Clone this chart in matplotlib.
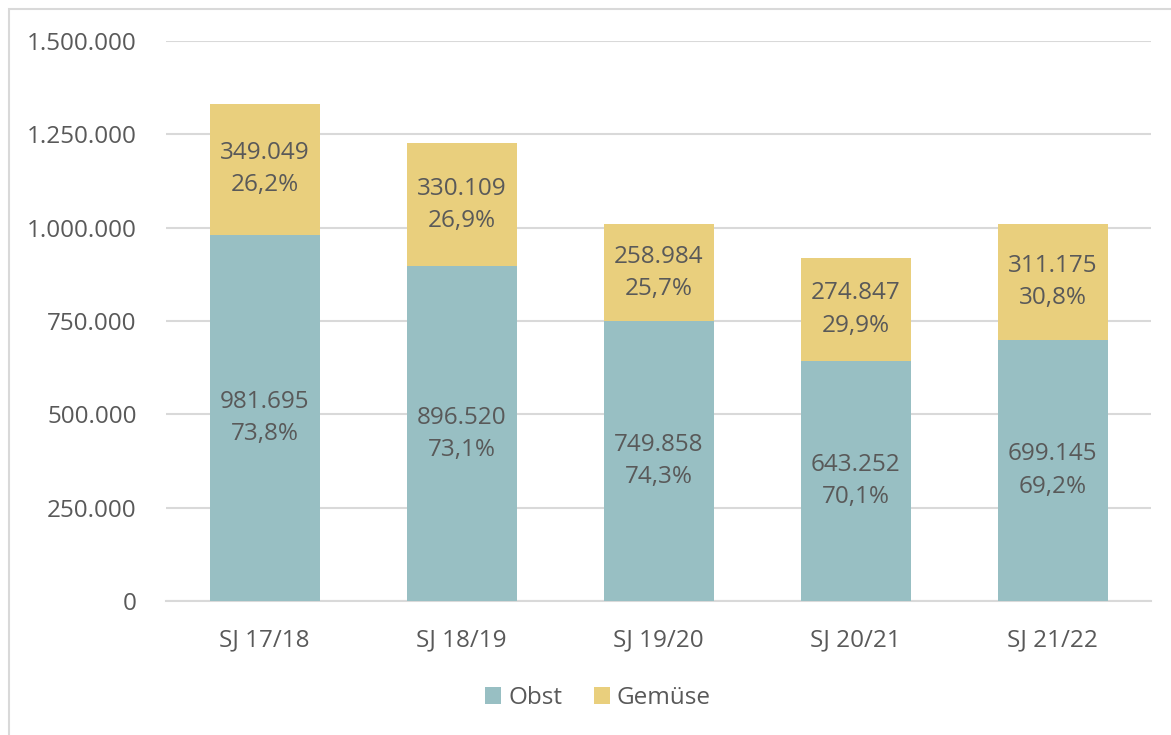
import matplotlib
matplotlib.use("Agg")
import matplotlib.pyplot as plt
from matplotlib.patches import Rectangle

categories = ["SJ 17/18", "SJ 18/19", "SJ 19/20", "SJ 20/21", "SJ 21/22"]
obst = [981695, 896520, 749858, 643252, 699145]
gemuese = [349049, 330109, 258984, 274847, 311175]
obst_pct = ["73,8%", "73,1%", "74,3%", "70,1%", "69,2%"]
gemuese_pct = ["26,2%", "26,9%", "25,7%", "29,9%", "30,8%"]
yticks = [0, 250000, 500000, 750000, 1000000, 1250000, 1500000]

plt.rcParams['font.family'] = ['Open Sans', 'DejaVu Sans']
TXT = '#595959'
C_OBST = '#98BFC3'
C_GEM = '#E9CF7D'
FS = 17.5

def fmt(v):
    return f"{v:,}".replace(",", ".")

W, H = 1171, 735
fig = plt.figure(figsize=(W/100, H/100), dpi=100)
fig.patches.append(Rectangle((9/W, -0.1), 1.2, (H-9)/H + 0.1, transform=fig.transFigure,
                             fill=False, edgecolor='#D9D9D9', linewidth=1.5))
ax = fig.add_axes([166/W, 1-601/H, (1151-166)/W, (601-41)/H])

x = list(range(len(categories)))
bw = 110/197
ax.bar(x, obst, width=bw, color=C_OBST, label='Obst', zorder=3)
ax.bar(x, gemuese, width=bw, bottom=obst, color=C_GEM, label='Gemüse', zorder=3)

for i in x:
    ax.text(i, obst[i]/2, f"{fmt(obst[i])}\n{obst_pct[i]}", ha='center', va='center',
            color=TXT, fontsize=FS, linespacing=1.45, zorder=4)
    ax.text(i, obst[i] + gemuese[i]/2, f"{fmt(gemuese[i])}\n{gemuese_pct[i]}", ha='center',
            va='center', color=TXT, fontsize=FS, linespacing=1.45, zorder=4)

ax.set_xlim(-0.5, 4.5)
ax.set_ylim(0, 1500000)
ax.set_yticks(yticks)
ax.set_yticklabels([fmt(v) for v in yticks])
ax.set_xticks(x)
ax.set_xticklabels(categories)
ax.tick_params(axis='both', length=0, labelsize=FS, labelcolor=TXT)
ax.tick_params(axis='y', pad=21)
ax.tick_params(axis='x', pad=20)
ax.grid(axis='y', color='#D9D9D9', linewidth=1.5, zorder=0)
for s in ['top', 'right', 'left']:
    ax.spines[s].set_visible(False)
ax.spines['bottom'].set_color('#D9D9D9')
ax.spines['bottom'].set_linewidth(1.5)

leg = fig.legend(loc='center', bbox_to_anchor=(598/W, 1-698/H), ncol=2, frameon=False,
                 fontsize=FS, handlelength=0.65, handleheight=0.65, handletextpad=0.3,
                 columnspacing=1.3)
for t in leg.get_texts():
    t.set_color(TXT)

fig.savefig("out.png", dpi=100)
